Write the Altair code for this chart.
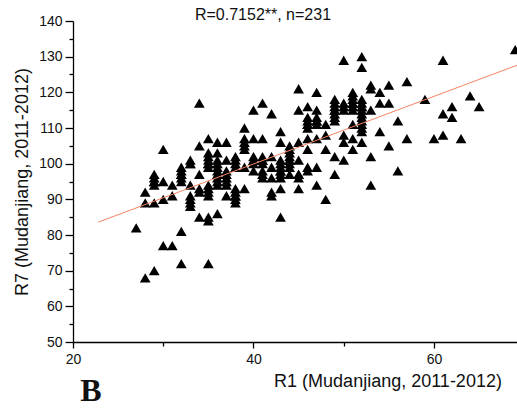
import altair as alt
import pandas as pd

# R1 (x) and R7 (y) values
r1 = [
    27,
    28, 28, 28,
    29, 29, 29, 29, 29, 29, 29,
    30, 30, 30, 30,
    31, 31, 31,
    32, 32, 32, 32, 32, 32, 32, 32,
    33, 33, 33, 33, 33, 33, 33, 33,
    34, 34, 34, 34, 34, 34,
    35, 35, 35, 35, 35, 35, 35, 35, 35, 35, 35, 35, 35, 35,
    36, 36, 36, 36, 36, 36, 36, 36, 36, 36, 36, 36,
    37, 37, 37, 37, 37, 37, 37, 37,
    38, 38, 38, 38, 38, 38, 38, 38, 38, 38,
    39, 39, 39, 39, 39, 39, 39,
    40, 40, 40, 40, 40, 40, 40,
    41, 41, 41, 41, 41, 41, 41, 41, 41,
    42, 42, 42, 42, 42, 42,
    43, 43, 43, 43, 43, 43, 43, 43, 43, 43, 43,
    44, 44, 44, 44, 44, 44, 44, 44, 44,
    45, 45, 45, 45, 45, 45, 45, 45,
    46, 46, 46, 46, 46, 46, 46, 46, 46, 46,
    47, 47, 47, 47, 47, 47, 47, 47, 47,
    48, 48, 48, 48,
    49, 49, 49, 49, 49, 49, 49, 49, 49, 49,
    50, 50, 50, 50, 50, 50, 50,
    51, 51, 51, 51, 51, 51, 51, 51, 51, 51,
    52, 52, 52, 52, 52, 52, 52, 52, 52, 52, 52, 52, 52, 52,
    53, 53, 53, 53, 53,
    54, 54, 54,
    55, 55, 55,
    56, 56,
    57, 57,
    59, 60, 61, 61, 61, 62, 62, 63, 64, 65, 69,
]
r7 = [
    82,
    92, 89, 68,
    97, 96, 95, 95, 94, 89, 70,
    104, 95, 90, 77,
    94, 91, 77,
    99, 98, 97, 97, 96, 95, 81, 72,
    101, 100, 100, 94, 91, 90, 89, 88,
    117, 105, 97, 93, 92, 85,
    107, 103, 102, 101, 100, 100, 99, 94, 93, 92, 91, 85, 84, 72,
    106, 103, 101, 100, 99, 98, 97, 97, 96, 95, 94, 86,
    106, 101, 98, 97, 96, 95, 94, 91,
    102, 101, 100, 99, 93, 92, 91, 91, 90, 89,
    110, 107, 106, 105, 104, 99, 93,
    115, 107, 102, 101, 101, 100, 98,
    117, 107, 102, 101, 101, 100, 98, 97, 96,
    114, 102, 99, 96, 92, 91,
    109, 106, 101, 100, 99, 98, 98, 97, 96, 93, 85,
    105, 104, 103, 102, 101, 101, 100, 99, 97,
    121, 115, 106, 101, 97, 97, 96, 93,
    116, 113, 112, 111, 111, 110, 107, 104, 99, 98,
    120, 115, 113, 112, 112, 111, 107, 99, 94,
    111, 108, 104, 90,
    118, 117, 116, 115, 115, 114, 113, 112, 102, 97,
    129, 117, 116, 115, 108, 106, 101,
    120, 119, 118, 117, 117, 116, 115, 111, 107, 104,
    130, 127, 118, 117, 116, 116, 115, 114, 113, 112, 111, 110, 109, 106,
    122, 121, 115, 102, 94,
    120, 117, 109,
    122, 117, 105,
    112, 98,
    123, 107,
    118, 107, 129, 114, 108, 116, 113, 107, 119, 116, 132,
]

# regression line end points
fit_r1 = [22.8, 69.2]
fit_r7 = [83.6, 127.6]

y_major = [50, 60, 70, 80, 90, 100, 110, 120, 130, 140]
y_minor = [55, 65, 75, 85, 95, 105, 115, 125, 135]
x_major = [20, 40, 60]
x_minor = [30, 50]

title_text = ["R=0.7152**, n=231"]
x_title = "R1 (Mudanjiang, 2011-2012)"
y_title = "R7 (Mudanjiang, 2011-2012)"
panel_label = ["B"]

pts = pd.DataFrame({"r1": r1, "r7": r7})
fit = pd.DataFrame({"r1": fit_r1, "r7": fit_r7})
lab = pd.DataFrame({"t": panel_label})
ttl = pd.DataFrame({"t": title_text})

FONT = "Liberation Sans"
xscale = alt.Scale(domain=[20, 69.2], nice=False, zero=False)
yscale = alt.Scale(domain=[50, 140], nice=False, zero=False)

scatter = alt.Chart(pts).mark_point(
    shape="triangle-up", filled=True, size=115, color="black", opacity=1
).encode(
    x=alt.X("r1:Q", scale=xscale, axis=alt.Axis(
        values=x_major, orient="bottom", title=x_title,
        titleX=314.5, titleY=39, titleAlign="center", titleBaseline="middle",
        titleFont=FONT, titleFontSize=18, titleFontWeight="normal", titleColor="#111",
        tickSize=6, labelPadding=4, labelFlush=False)),
    y=alt.Y("r7:Q", scale=yscale, axis=alt.Axis(
        values=y_major, orient="left", title=y_title,
        titleX=-51, titleY=160.5, titleAngle=270, titleAlign="center", titleBaseline="middle",
        titleFont=FONT, titleFontSize=18, titleFontWeight="normal", titleColor="#111",
        tickSize=8, labelPadding=3)),
)

line = alt.Chart(fit).mark_line(color="#f4845f", strokeWidth=1).encode(
    x=alt.X("r1:Q", scale=xscale, axis=alt.Axis(
        values=x_minor, orient="bottom", labels=False, domain=False, title="", tickSize=4)),
    y=alt.Y("r7:Q", scale=yscale, axis=alt.Axis(
        values=y_minor, orient="left", labels=False, domain=False, title="", tickSize=4)),
)

letter = alt.Chart(lab).mark_text(
    font="Liberation Serif", fontWeight="bold", fontSize=32, color="#111",
    align="center", baseline="middle"
).encode(text="t:N", x=alt.value(18), y=alt.value(370))

head = alt.Chart(ttl).mark_text(
    font=FONT, fontSize=16, color="#111", align="center", baseline="alphabetic"
).encode(text="t:N", x=alt.value(190), y=alt.value(-1))

chart = alt.layer(scatter, line, letter, head).resolve_axis(
    x="independent", y="independent"
).properties(
    width=444, height=321,
    autosize=alt.AutoSizeParams(type="none"),
    padding={"left": 73, "top": 21, "right": 0, "bottom": 66},
).configure_view(stroke=None).configure_axis(
    grid=False, domainColor="black", tickColor="black", labelColor="#111",
    labelFont=FONT, labelFontSize=14, domainWidth=1.3, tickWidth=1.3
)

chart.save("out.html", embed_options={"renderer": "svg", "actions": False})
